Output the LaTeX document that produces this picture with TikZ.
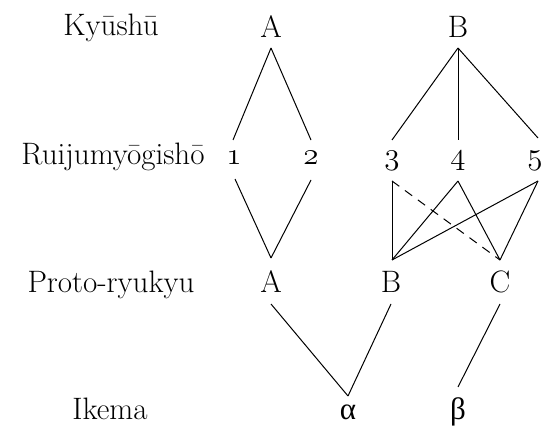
\RequirePackage{fix-cm}
\documentclass[tikz,border=0pt]{standalone}
\usepackage{fontspec}
\newfontfamily\grk{Liberation Serif}
\newcommand{\osn}[1]{\(\mathnormal{#1}\)}
\tikzset{
  lbl/.style={anchor=base, inner sep=0pt, font=\fontsize{31}{36}\selectfont},
  edge/.style={line width=1pt},
  dedge/.style={line width=1pt, dash pattern=on 9pt off 7pt}
}
\begin{document}
\begin{tikzpicture}[x=1pt,y=-1pt]
\useasboundingbox (0,0) rectangle (542,428);
% row labels
\node[lbl] (l1) at (111,36) {Kyūshū};
\node[lbl] (l2) at (113,165) {Ruijumyōgishō};
\node[lbl] (l3) at (111,293) {Proto-ryukyu};
\node[lbl] (l4) at (110,419) {Ikema};
% row 1
\node[lbl] (kA) at (271,38) {A};
\node[lbl] (kB) at (458,38) {B};
% row 2
\node[lbl] (r1) at (234,165) {\osn{1}};
\node[lbl] (r2) at (311,165) {\osn{2}};
\node[lbl] (r3) at (392,165) {\osn{3}};
\node[lbl] (r4) at (458,165) {\osn{4}};
\node[lbl] (r5) at (535,165) {\osn{5}};
% row 3
\node[lbl] (pA) at (271,293) {A};
\node[lbl] (pB) at (391,293) {B};
\node[lbl] (pC) at (500,293) {C};
% row 4
\node[lbl] (ia) at (348,419) {\grk α};
\node[lbl] (ib) at (458,419) {\grk β};
% connectors
\draw[edge] ([yshift=-10pt]kA.base) -- ([xshift=-1pt,yshift=25pt]r1.base);
\draw[edge] ([yshift=-10pt]kA.base) -- ([yshift=25pt]r2.base);
\draw[edge] ([yshift=-10pt]kB.base) -- ([yshift=25pt]r3.base);
\draw[edge] ([yshift=-10pt]kB.base) -- ([yshift=25pt]r4.base);
\draw[edge] ([yshift=-10pt]kB.base) -- ([xshift=3pt,yshift=27pt]r5.base);
\draw[edge] ([xshift=1pt,yshift=-14pt]r1.base) -- ([yshift=35pt]pA.base);
\draw[edge] ([yshift=-15pt]r2.base) -- ([yshift=35pt]pA.base);
\draw[edge] ([yshift=-16pt]r3.base) -- ([xshift=1pt,yshift=33pt]pB.base);
\draw[dedge] ([yshift=-16pt]r3.base) -- ([yshift=33pt]pC.base);
\draw[edge] ([yshift=-16pt]r4.base) -- ([xshift=1pt,yshift=33pt]pB.base);
\draw[edge] ([yshift=-16pt]r4.base) -- ([yshift=33pt]pC.base);
\draw[edge] ([xshift=3pt,yshift=-16pt]r5.base) -- ([xshift=1pt,yshift=33pt]pB.base);
\draw[edge] ([xshift=3pt,yshift=-16pt]r5.base) -- ([yshift=33pt]pC.base);
\draw[edge] ([yshift=-11pt]pA.base) -- ([yshift=23pt]ia.base);
\draw[edge] ([yshift=-11pt]pB.base) -- ([yshift=23pt]ia.base);
\draw[edge] ([yshift=-11pt]pC.base) -- ([yshift=32pt]ib.base);
\end{tikzpicture}
\end{document}
